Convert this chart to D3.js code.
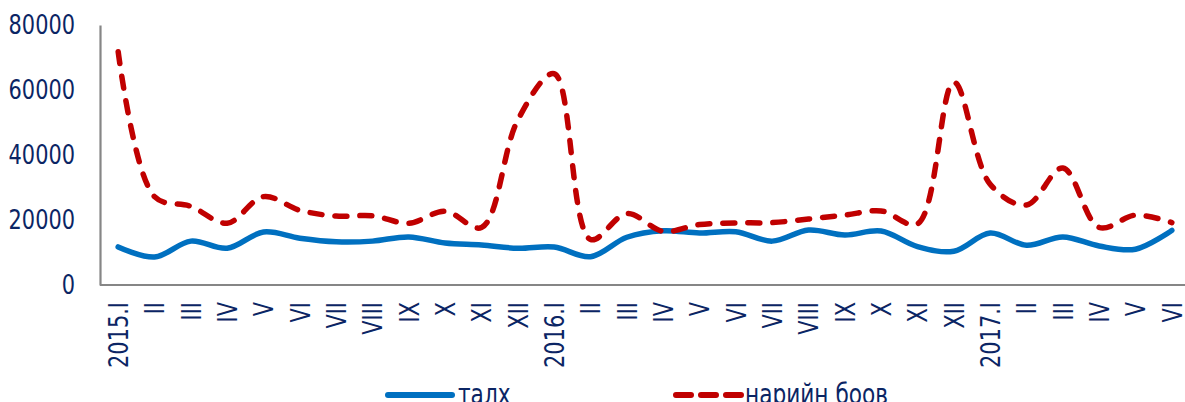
<!DOCTYPE html>
<html>
<head>
<meta charset="utf-8">
<script src="https://cdn.jsdelivr.net/npm/d3@7"></script>
<style>
  html, body { margin: 0; padding: 0; background: #fff; overflow: hidden; }
  svg { display: block; }
  text { font-family: "DejaVu Sans Condensed", "DejaVu Sans", sans-serif; font-stretch: condensed; fill: #0B2564; }
</style>
</head>
<body>
<svg id="chart" width="1185" height="402"></svg>
<script>
const categories = [
  "2015.I","II","III","IV","V","VI","VII","VIII","IX","X","XI","XII",
  "2016.I","II","III","IV","V","VI","VII","VIII","IX","X","XI","XII",
  "2017.I","II","III","IV","V","VI"
];
const talx = [
  11700, 8600, 13500, 11300, 16300, 14400, 13300, 13500, 14800, 12900, 12300, 11300,
  11700, 8700, 14700, 16700, 16000, 16400, 13500, 16900, 15400, 16600, 11800, 10400,
  16000, 12200, 14800, 12000, 11000, 16800
];
const nariinBoov = [
  71800, 27200, 24200, 19000, 27200, 23000, 21200, 21300, 19000, 22700, 17700, 50800,
  65000, 14000, 22000, 16500, 18600, 19100, 19200, 20300, 21500, 22800, 18800, 62400,
  31000, 24600, 36000, 17700, 21500, 19200
];
const yTicks = [0, 20000, 40000, 60000, 80000];
const seriesNames = ["талх", "нарийн боов"];

const SX = 0.86; // horizontal squeeze of glyphs to match the reference's narrow face
const svg = d3.select("#chart");
const x = d3.scalePoint().domain(d3.range(categories.length)).range([100, 1190]).padding(0.5);
const y = d3.scaleLinear().domain([0, 80000]).range([285, 25]);

const yAxis = d3.axisLeft(y).tickValues(yTicks).tickSize(0).tickPadding(25).tickFormat(d3.format("d"));
const gy = svg.append("g").attr("transform", "translate(100,0)").call(yAxis);
gy.select(".domain").attr("stroke", "#868686").attr("stroke-width", 2.2);
gy.selectAll(".tick text")
  .style("font-size", "27px")
  .attr("fill", "#0B2564")
  .attr("x", -25 / SX)
  .attr("transform", `scale(${SX},1)`);

const xAxis = d3.axisBottom(x).tickSize(0).tickFormat(i => categories[i]);
const gx = svg.append("g").attr("transform", "translate(0,285)").call(xAxis);
gx.select(".domain").attr("d", "M100,0H1185").attr("stroke", "#868686").attr("stroke-width", 2.2);
gx.selectAll(".tick text")
  .style("font-size", "27px")
  .attr("fill", "#0B2564")
  .attr("text-anchor", "end")
  .attr("dy", "0.35em")
  .attr("x", 0)
  .attr("y", 0)
  .attr("transform", `translate(0,17) rotate(-90) scale(${SX},1)`);

const line = d3.line()
  .x((d, i) => x(i))
  .y(d => y(d))
  .curve(d3.curveCatmullRom.alpha(0.5));

svg.append("path").datum(talx)
  .attr("d", line).attr("fill", "none")
  .attr("stroke", "#0070C0").attr("stroke-width", 5.5)
  .attr("stroke-linecap", "round").attr("stroke-linejoin", "round");

svg.append("path").datum(nariinBoov)
  .attr("d", line).attr("fill", "none")
  .attr("stroke", "#C00000").attr("stroke-width", 5.5)
  .attr("stroke-dasharray", "12,13")
  .attr("stroke-linecap", "round").attr("stroke-linejoin", "round");

// legend
const lg = svg.append("g");
lg.append("line").attr("x1", 388).attr("x2", 452).attr("y1", 395).attr("y2", 395)
  .attr("stroke", "#0070C0").attr("stroke-width", 6).attr("stroke-linecap", "round");
lg.append("text").attr("transform", `translate(458,404) scale(${SX},1)`)
  .style("font-size", "28px").text(seriesNames[0]);
lg.append("line").attr("x1", 676).attr("x2", 741).attr("y1", 395).attr("y2", 395)
  .attr("stroke", "#C00000").attr("stroke-width", 6).attr("stroke-linecap", "round")
  .attr("stroke-dasharray", "15,10");
lg.append("text").attr("transform", `translate(745,404) scale(${SX},1)`)
  .style("font-size", "28px").text(seriesNames[1]);
</script>
</body>
</html>
